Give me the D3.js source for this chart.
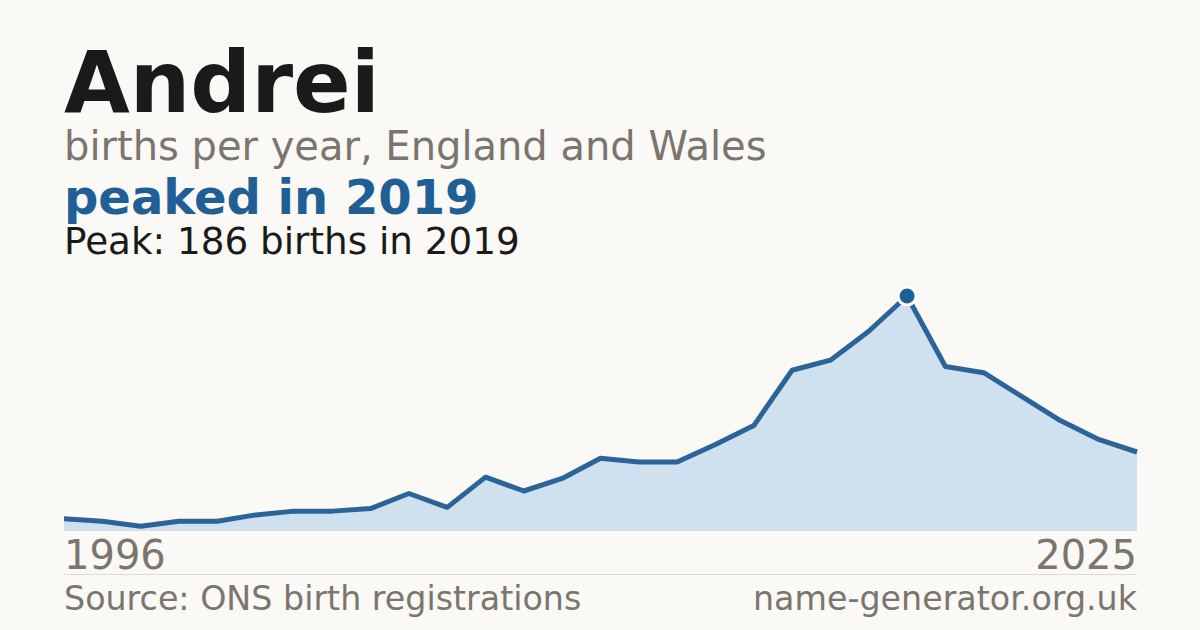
<!DOCTYPE html>
<html>
<head>
<meta charset="utf-8">
<script src="https://cdn.jsdelivr.net/npm/d3@7"></script>
<style>
  html, body { margin: 0; padding: 0; background: #faf9f5; }
  svg { display: block; font-family: "DejaVu Sans", sans-serif; }
</style>
</head>
<body>
<div id="chart"></div>
<script>
// chart data
const years = [1996, 1997, 1998, 1999, 2000, 2001, 2003, 2004, 2005, 2006,
  2007, 2008, 2009, 2010, 2011, 2012, 2013, 2014, 2015, 2016,
  2017, 2018, 2019, 2020, 2021, 2022, 2023, 2024, 2025];
const births = [9, 7, 3, 7, 7, 12, 15, 15, 17, 29,
  18, 42, 31, 41, 57, 54, 54, 68, 83, 127,
  135, 158, 186, 130, 125, 106, 87, 72, 62];
const tickLabels = ["1996", "2025"];
const peakYear = 2019;
const peakValue = 186;

// Set up dimensions
const width = 1200;
const height = 630;
const margin = { left: 64, right: 63 };
const chartTop = 296;
const chartBottom = 530;

const svg = d3.select("#chart")
  .append("svg")
  .attr("width", width)
  .attr("height", height);

svg.append("rect")
  .attr("width", width)
  .attr("height", height)
  .attr("fill", "#faf9f5");

// headings
svg.append("text")
  .attr("x", 64).attr("y", 112)
  .attr("fill", "#1a1a1a")
  .style("font-size", "85px")
  .style("font-weight", "bold")
  .text("Andrei");

svg.append("text")
  .attr("x", 64).attr("y", 160)
  .attr("fill", "#7a756e")
  .style("font-size", "40px")
  .text("births per year, England and Wales");

svg.append("text")
  .attr("x", 64).attr("y", 214)
  .attr("fill", "#1f5f96")
  .style("font-size", "48px")
  .style("font-weight", "bold")
  .text(`peaked in ${peakYear}`);

svg.append("text")
  .attr("x", 64).attr("y", 254)
  .attr("fill", "#1a1a1a")
  .style("font-size", "37.3px")
  .text(`Peak: ${peakValue} births in ${peakYear}`);

// scales
const x = d3.scalePoint()
  .domain(years)
  .range([margin.left, width - margin.right]);

const y = d3.scaleLinear()
  .domain([0, d3.max(births)])
  .range([chartBottom, chartTop]);

const data = years.map((yr, i) => ({ year: yr, value: births[i] }));

// area under the line
const area = d3.area()
  .x(d => x(d.year))
  .y0(y(0))
  .y1(d => y(d.value));

svg.append("path")
  .datum(data)
  .attr("d", area)
  .attr("fill", "#cfe0ef");

// baseline
svg.append("line")
  .attr("x1", margin.left).attr("x2", width - margin.right)
  .attr("y1", y(0) + 0.5).attr("y2", y(0) + 0.5)
  .attr("stroke", "#dedbd3")
  .attr("stroke-width", 1);

// line
const line = d3.line()
  .x(d => x(d.year))
  .y(d => y(d.value));

svg.append("path")
  .datum(data)
  .attr("d", line)
  .attr("fill", "none")
  .attr("stroke", "#2a6498")
  .attr("stroke-width", 5)
  .attr("stroke-linejoin", "round");

// peak marker
const peak = data.find(d => d.year === peakYear);
svg.append("circle")
  .attr("cx", x(peak.year))
  .attr("cy", y(peak.value))
  .attr("r", 9)
  .attr("fill", "#1f5f96")
  .attr("stroke", "#ffffff")
  .attr("stroke-width", 3);

// end labels of the x axis
svg.append("text")
  .attr("x", x(years[0])).attr("y", 569)
  .attr("fill", "#7a756e")
  .style("font-size", "40px")
  .text(tickLabels[0]);

svg.append("text")
  .attr("x", x(years[years.length - 1])).attr("y", 569)
  .attr("text-anchor", "end")
  .attr("fill", "#7a756e")
  .style("font-size", "40px")
  .text(tickLabels[1]);

// footer rule and texts
svg.append("line")
  .attr("x1", margin.left).attr("x2", width - margin.right)
  .attr("y1", 574.5).attr("y2", 574.5)
  .attr("stroke", "#dedbd3")
  .attr("stroke-width", 1);

svg.append("text")
  .attr("x", 64).attr("y", 610)
  .attr("fill", "#7a756e")
  .style("font-size", "33.3px")
  .text("Source: ONS birth registrations");

svg.append("text")
  .attr("x", width - margin.right).attr("y", 610)
  .attr("text-anchor", "end")
  .attr("fill", "#7a756e")
  .style("font-size", "33.3px")
  .text("name-generator.org.uk");
</script>
</body>
</html>
